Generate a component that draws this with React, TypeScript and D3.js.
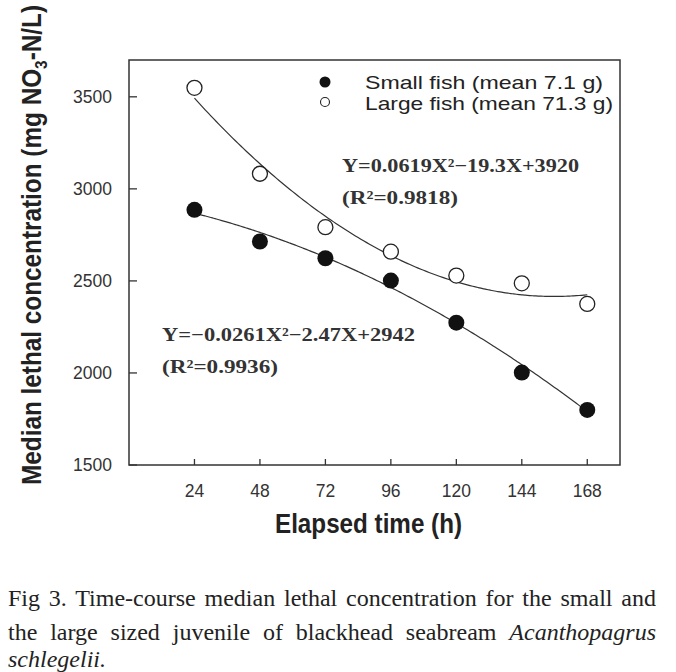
import React, { useLayoutEffect, useRef } from 'react';
import * as d3 from 'd3';

// ---- data ----
const hours = [24, 48, 72, 96, 120, 144, 168];
const smallFish = [2886, 2714, 2623, 2502, 2273, 2002, 1799];
const largeFish = [3549, 3082, 2792, 2659, 2529, 2487, 2375];
// quadratic fit coefficients [a, b, c] : Y = aX^2 + bX + c
const smallFit = [-0.0261, -2.47, 2942];
const largeFit = [0.0619, -19.3, 3920];
const yTicks = [1500, 2000, 2500, 3000, 3500];
const xTicks = [24, 48, 72, 96, 120, 144, 168];
const legendLabels = ['Small fish (mean 7.1 g)', 'Large fish (mean 71.3 g)'];
const largeEq = ['Y=0.0619X\u00B2\u221219.3X+3920', '(R\u00B2=0.9818)'];
const smallEq = ['Y=\u22120.0261X\u00B2\u22122.47X+2942', '(R\u00B2=0.9936)'];

const W = 676;
const H = 672;
const M = { left: 129, right: 620, top: 60, bottom: 465 };

const x = d3.scaleLinear().domain([0, 180]).range([M.left, M.right]);
const y = d3.scaleLinear().domain([1500, 3700]).range([M.bottom, M.top]);

const fitPath = (c: number[]) => {
  const pts = d3.range(hours[0], hours[hours.length - 1] + 0.5, 1).map((h) => [h, c[0] * h * h + c[1] * h + c[2]] as [number, number]);
  return d3.line<[number, number]>().x((d) => x(d[0])).y((d) => y(d[1])).curve(d3.curveMonotoneX)(pts) || '';
};

const sans = 'Liberation Sans, Arial, sans-serif';
const serif = 'Liberation Serif, Times New Roman, serif';

function Caption() {
  const refs = [useRef<SVGTextElement>(null), useRef<SVGTextElement>(null)];
  useLayoutEffect(() => {
    const target = 648;
    refs.forEach((r) => {
      const el = r.current;
      if (!el) return;
      el.setAttribute('word-spacing', '0');
      const nat = el.getComputedTextLength();
      const spaces = (el.textContent || '').split(' ').length - 1;
      if (spaces > 0) el.setAttribute('word-spacing', String((target - nat) / spaces));
    });
  }, []);
  return (
    <g fontFamily={serif} fontSize={24} fill="#222">
      <text ref={refs[0]} x={8} y={606}>Fig 3. Time-course median lethal concentration for the small and</text>
      <text ref={refs[1]} x={8} y={640}>
        the large sized juvenile of blackhead seabream <tspan fontStyle="italic">Acanthopagrus</tspan>
      </text>
      <text x={8} y={667} fontStyle="italic">schlegelii.</text>
    </g>
  );
}

export default function App() {
  return (
    <svg width={W} height={H} style={{ position: 'absolute', left: 0, top: 0, background: '#fff' }}>
      {/* fit curves */}
      <path d={fitPath(largeFit)} fill="none" stroke="#333" strokeWidth={1.2} />
      <path d={fitPath(smallFit)} fill="none" stroke="#333" strokeWidth={1.2} />

      {/* frame */}
      <rect x={M.left} y={M.top} width={M.right - M.left} height={M.bottom - M.top} fill="none" stroke="#333" strokeWidth={1.5} />

      {/* y ticks */}
      {yTicks.map((t) => (
        <g key={'y' + t}>
          <line x1={M.left} x2={M.left + 8} y1={y(t)} y2={y(t)} stroke="#333" strokeWidth={1.3} />
          <text x={112} y={y(t)} dy="0.36em" textAnchor="end" fontFamily={sans} fontSize={17.5} fill="#333">{t}</text>
        </g>
      ))}
      {/* x ticks */}
      {xTicks.map((t) => (
        <g key={'x' + t}>
          <line x1={x(t)} x2={x(t)} y1={M.bottom} y2={M.bottom - 6} stroke="#333" strokeWidth={1.3} />
          <text x={x(t)} y={497} textAnchor="middle" fontFamily={sans} fontSize={17.5} fill="#333">{t}</text>
        </g>
      ))}

      {/* markers */}
      {hours.map((h, i) => (
        <circle key={'s' + h} cx={x(h)} cy={y(smallFish[i])} r={8} fill="#111" />
      ))}
      {hours.map((h, i) => (
        <circle key={'l' + h} cx={x(h)} cy={y(largeFish[i])} r={7.5} fill="#fff" stroke="#222" strokeWidth={1.3} />
      ))}

      {/* legend */}
      <circle cx={325} cy={82} r={5.5} fill="#111" />
      <circle cx={325} cy={102} r={4.5} fill="#fff" stroke="#222" strokeWidth={1.1} />
      <text x={365} y={89} fontFamily={sans} fontSize={18.5} fill="#222" textLength={238} lengthAdjust="spacingAndGlyphs">{legendLabels[0]}</text>
      <text x={365} y={110} fontFamily={sans} fontSize={18.5} fill="#222" textLength={248} lengthAdjust="spacingAndGlyphs">{legendLabels[1]}</text>

      {/* equations */}
      <g fontFamily={serif} fontWeight="bold" fontSize={19} fill="#333">
        <text x={342} y={172} textLength={237} lengthAdjust="spacingAndGlyphs">{largeEq[0]}</text>
        <text x={342} y={204} textLength={116} lengthAdjust="spacingAndGlyphs">{largeEq[1]}</text>
        <text x={162} y={341} textLength={253} lengthAdjust="spacingAndGlyphs">{smallEq[0]}</text>
        <text x={162} y={373} textLength={116} lengthAdjust="spacingAndGlyphs">{smallEq[1]}</text>
      </g>

      {/* axis titles */}
      <text x={275} y={533} fontFamily={sans} fontWeight="bold" fontSize={27} fill="#222" textLength={187} lengthAdjust="spacingAndGlyphs">Elapsed time (h)</text>
      <text transform="translate(41,245) rotate(-90)" textAnchor="middle" fontFamily={sans} fontWeight="bold" fontSize={27} fill="#222" textLength={480} lengthAdjust="spacingAndGlyphs">
        Median lethal concentration (mg NO<tspan fontSize={17} dy={6}>3</tspan><tspan dy={-6}>-N/L)</tspan>
      </text>

      <Caption />
    </svg>
  );
}
